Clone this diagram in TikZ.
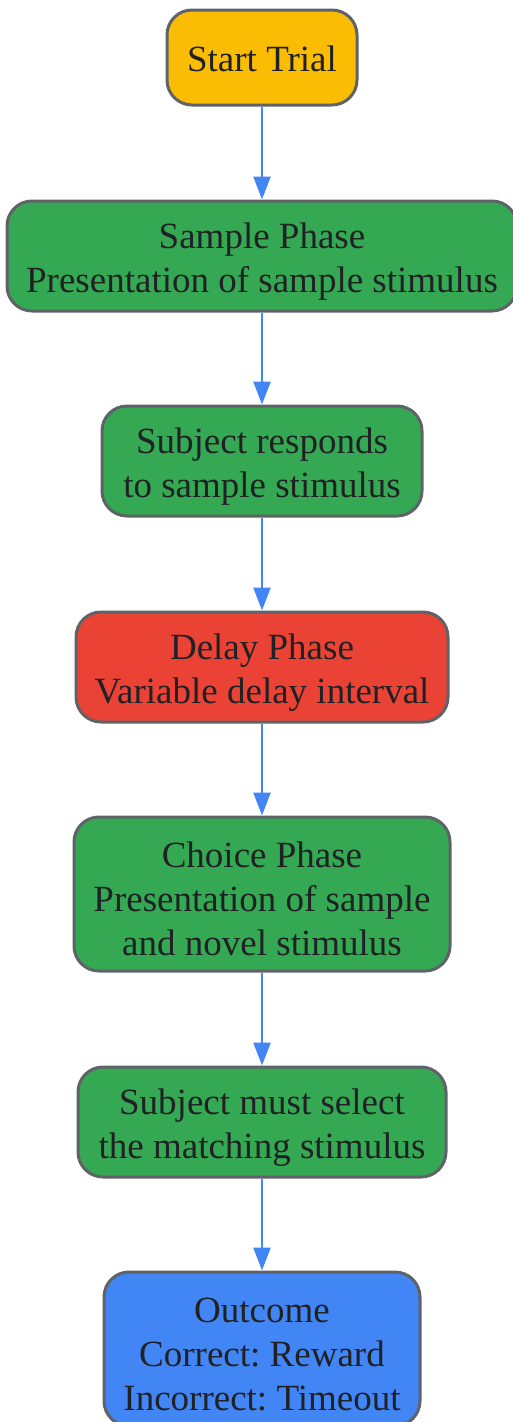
\documentclass[tikz,border=0pt]{standalone}
\usepackage{fontspec}
\setmainfont{Liberation Serif}
\frenchspacing
\usetikzlibrary{arrows.meta}
\definecolor{cyellow}{HTML}{FBBC04}
\definecolor{cgreen}{HTML}{34A853}
\definecolor{cred}{HTML}{EA4335}
\definecolor{cblue}{HTML}{4285F4}
\definecolor{cborder}{HTML}{5F6368}
\definecolor{ctext}{HTML}{202124}
\newcommand{\toppad}{\rule{0pt}{36pt}}
\begin{document}
\begin{tikzpicture}[x=1pt,y=1pt,
  box/.style={draw=cborder, line width=3pt, rounded corners=25pt, align=center,
    inner sep=0pt, text=ctext, font=\fontsize{37}{44}\selectfont},
  conn/.style={draw=cblue, line width=2.5pt, -{Triangle[length=23pt,width=17pt]}}]
\useasboundingbox (0,0) rectangle (513,-1422);
\node[box, fill=cyellow, minimum width=190pt, minimum height=95pt] (start) at (262,-57.5) {\rule{0pt}{29pt}Start Trial};
\node[box, fill=cgreen, minimum width=510pt, minimum height=110pt] (sample) at (262,-256) {\toppad Sample Phase\\Presentation of sample stimulus};
\node[box, fill=cgreen, minimum width=320pt, minimum height=110pt] (resp) at (262,-461) {\toppad Subject responds\\to sample stimulus};
\node[box, fill=cred, minimum width=372pt, minimum height=110pt] (delay) at (262,-667) {\toppad Delay Phase\\Variable delay interval};
\node[box, fill=cgreen, minimum width=376pt, minimum height=154pt] (choice) at (262,-894) {\toppad Choice Phase\\Presentation of sample\\and novel stimulus};
\node[box, fill=cgreen, minimum width=368pt, minimum height=110pt] (select) at (262,-1122) {\toppad Subject must select\\the matching stimulus};
\node[box, fill=cblue, minimum width=316pt, minimum height=154pt] (outcome) at (262,-1349) {\toppad Outcome\\Correct: Reward\\Incorrect: Timeout};
\draw[conn] (start) -- (sample);
\draw[conn] (sample) -- (resp);
\draw[conn] (resp) -- (delay);
\draw[conn] (delay) -- (choice);
\draw[conn] (choice) -- (select);
\draw[conn] (select) -- (outcome);
\end{tikzpicture}
\end{document}
